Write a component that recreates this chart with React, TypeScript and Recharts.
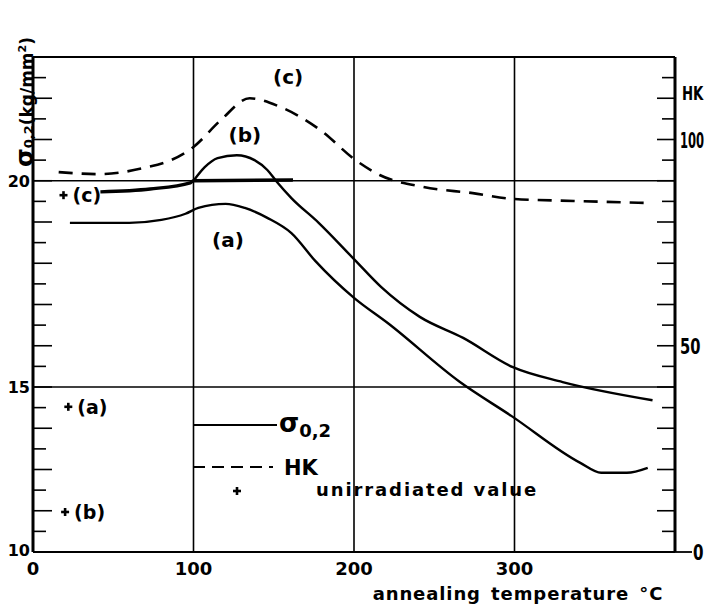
import React from "react";
import {
  ComposedChart,
  Line,
  Scatter,
  XAxis,
  YAxis,
  ReferenceLine,
  ReferenceDot,
  Legend,
  Label,
} from "recharts";

// sigma 0.2 curves (kg/mm2) vs annealing temperature (°C)
const tempA = [23, 60, 80, 95, 103, 120, 132, 146, 161, 176, 200, 221, 266, 298, 341, 354, 370, 383];
const sigmaA = [18.98, 18.98, 19.05, 19.2, 19.34, 19.44, 19.34, 19.1, 18.73, 18.05, 17.16, 16.55, 15.12, 14.3, 13.16, 12.92, 12.92, 13.04];

const tempB = [100, 107, 115, 127, 138, 146, 152, 161, 178, 200, 217, 241, 268, 299, 330, 386];
const sigmaB = [20.0, 20.33, 20.55, 20.62, 20.5, 20.26, 19.97, 19.58, 18.98, 18.1, 17.42, 16.7, 16.19, 15.48, 15.12, 14.68];

const tempC = [42, 73, 98, 100, 162];
const sigmaC = [19.73, 19.8, 19.95, 20.0, 20.02];

// Knoop hardness
const tempHK = [16, 42, 69, 86, 100, 117, 135, 154, 179, 201, 216, 243, 274, 299, 337, 383];
const hardness = [92.1, 91.6, 93.1, 95, 98.2, 104.7, 110, 107.9, 102.3, 95, 91.4, 88.5, 87, 85.6, 85.1, 84.6];

// unirradiated values
const tempUnirr = [19, 22, 20];
const sigmaUnirr = [19.65, 14.52, 11.97];
const unirrTags = ["(c)", "(a)", "(b)"];

const xTicks = [0, 100, 200, 300];
const sigmaTicks = [11, 11.5, 12, 12.5, 13, 13.5, 14, 14.5, 15, 15.5, 16, 16.5, 17, 17.5, 18, 18.5, 19, 19.5, 20, 20.5, 21, 21.5, 22, 22.5, 23];
const sigmaTickLabels: Record<number, string> = { 11: "10", 15: "15", 20: "20" };
const hkTicks = [0, 5, 10, 15, 20, 25, 30, 35, 40, 45, 50, 55, 60, 65, 70, 75, 80, 85, 90, 95, 100, 105, 110, 115];
const hkTickLabels: Record<number, string> = { 0: "0", 50: "50", 100: "100" };

const FONT = "'DejaVu Sans', sans-serif";

const rows = (xs: number[], ys: number[], key: string) => xs.map((t, i) => ({ temp: t, [key]: ys[i] }));

// narrow bold text, squeezed horizontally like the original lettering
const Narrow = ({ x, y, sx, size, children }: { x: number; y: number; sx: number; size: number; children: React.ReactNode }) => (
  <text
    transform={`translate(${x},${y}) scale(${sx},1)`}
    fontFamily={FONT}
    fontWeight="bold"
    fontSize={size}
    fill="#000"
  >
    {children}
  </text>
);

const SigmaTick = (props: any) => {
  const { x, y, payload } = props;
  const v = payload.value;
  const label = sigmaTickLabels[v];
  return (
    <g>
      <line x1={x} x2={x + (v % 1 === 0 ? 19 : 13)} y1={y} y2={y} stroke="#000" strokeWidth={1.6} />
      {label && (
        <text
          x={x - 3}
          y={y}
          dy={v === 11 ? 4 : 6}
          textAnchor="end"
          fontFamily={FONT}
          fontWeight="bold"
          fontSize={16}
          fill="#000"
        >
          {label}
        </text>
      )}
    </g>
  );
};

const HKTick = (props: any) => {
  const { x, y, payload } = props;
  const v = payload.value;
  const label = hkTickLabels[v];
  if (v === 0) {
    return (
      <g>
        <line x1={x - 10} x2={x + 17} y1={y} y2={y} stroke="#000" strokeWidth={1.8} />
        <Narrow x={x + 18} y={y + 8} sx={0.72} size={21}>
          {label}
        </Narrow>
      </g>
    );
  }
  return (
    <g>
      <line x1={x} x2={x - (v % 10 === 0 ? 18 : 13)} y1={y} y2={y} stroke="#000" strokeWidth={1.6} />
      {label && (
        <Narrow x={x + 5} y={y + 8} sx={label.length === 3 ? 0.55 : 0.7} size={21}>
          {label}
        </Narrow>
      )}
    </g>
  );
};

const TempTick = (props: any) => {
  const { x, y, payload } = props;
  return (
    <text x={x} y={y + 23} textAnchor="middle" fontFamily={FONT} fontWeight="bold" fontSize={18} fill="#000">
      {payload.value}
    </text>
  );
};

const Plus = ({ cx, cy }: { cx: number; cy: number }) => (
  <g stroke="#000" strokeWidth={2.6}>
    <line x1={cx - 4} x2={cx + 4} y1={cy} y2={cy} />
    <line x1={cx} x2={cx} y1={cy - 4} y2={cy + 4} />
  </g>
);

const UnirrShape = (props: any) => (
  <g>
    <Plus cx={props.cx} cy={props.cy} />
    <text x={props.cx + 9} y={props.cy + 7} fontFamily={FONT} fontWeight="bold" fontSize={19} fill="#000">
      {props.payload.tag}
    </text>
  </g>
);

const curveTag = (tag: string) => (p: any) => (
  <text x={p.cx} y={p.cy} dy={7} textAnchor="middle" fontFamily={FONT} fontWeight="bold" fontSize={20} fill="#000">
    {tag}
  </text>
);

const LegendBox = () => (
  <svg width={380} height={100} style={{ overflow: "visible", display: "block" }}>
    <line x1={0} x2={84} y1={17} y2={17} stroke="#000" strokeWidth={2} />
    <text x={86} y={24} fontFamily={FONT} fontWeight="bold" fontSize={26} fill="#000">
      σ<tspan fontSize={18} dy={5}>0,2</tspan>
    </text>
    <line x1={0} x2={80} y1={59} y2={59} stroke="#000" strokeWidth={2} strokeDasharray="12 7" />
    <text x={91} y={67} fontFamily={FONT} fontWeight="bold" fontSize={21} fill="#000">
      HK
    </text>
    <Plus cx={44} cy={83} />
    <text x={123} y={88} fontFamily={FONT} fontWeight="bold" fontSize={18} letterSpacing={1.9} fill="#000">
      unirradiated value
    </text>
  </svg>
);

export default function App() {
  const dataA = rows(tempA, sigmaA, "sigma");
  const dataB = rows(tempB, sigmaB, "sigma");
  const dataC = rows(tempC, sigmaC, "sigma");
  const dataHK = rows(tempHK, hardness, "hk");
  const dataUnirr = tempUnirr.map((t, i) => ({ temp: t, sigma: sigmaUnirr[i], tag: unirrTags[i] }));

  return (
    <div style={{ width: 698, height: 597, background: "#fff" }}>
      <ComposedChart width={698} height={597} margin={{ top: 49, right: 0, bottom: 0, left: 0 }}>
        <XAxis
          dataKey="temp"
          type="number"
          domain={[0, 400]}
          ticks={xTicks}
          interval={0}
          allowDataOverflow
          height={53}
          tickSize={0}
          tickMargin={0}
          tickLine={false}
          axisLine={{ stroke: "#000", strokeWidth: 2.2 }}
          tick={<TempTick />}
        >
          <Label
            content={(p: any) => (
              <text
                x={p.viewBox.x + 485}
                y={p.viewBox.y + 48}
                textAnchor="middle"
                fontFamily={FONT}
                fontWeight="bold"
                fontSize={18}
                letterSpacing={0.9}
                wordSpacing={3}
                fill="#000"
              >
                annealing temperature °C
              </text>
            )}
          />
        </XAxis>
        <YAxis
          yAxisId="sigma"
          orientation="left"
          type="number"
          width={25}
          domain={[11, 23]}
          ticks={sigmaTicks}
          interval={0}
          allowDataOverflow
          tickSize={0}
          tickMargin={0}
          tickLine={false}
          axisLine={{ stroke: "#000", strokeWidth: 3 }}
          tick={<SigmaTick />}
        >
          <Label
            content={() => (
              <text
                x={25}
                y={94}
                transform="rotate(-90, 25, 94)"
                textAnchor="middle"
                fontFamily={FONT}
                fontWeight="bold"
                fontSize={17}
                fill="#000"
              >
                <tspan fontSize={24}>σ</tspan>
                <tspan fontSize={13}>0,2</tspan>
                <tspan>(kg/mm</tspan>
                <tspan fontSize={11} dy={-7}>2</tspan>
                <tspan dy={7}>)</tspan>
              </text>
            )}
          />
        </YAxis>
        <YAxis
          yAxisId="hk"
          orientation="right"
          type="number"
          width={31}
          domain={[0, 120]}
          ticks={hkTicks}
          interval={0}
          allowDataOverflow
          tickSize={0}
          tickMargin={0}
          tickLine={false}
          axisLine={{ stroke: "#000", strokeWidth: 3 }}
          tick={<HKTick />}
        >
          <Label
            content={(p: any) => (
              <Narrow x={p.viewBox.x + 7} y={92} sx={0.7} size={19}>
                HK
              </Narrow>
            )}
          />
        </YAxis>

        <ReferenceLine yAxisId="sigma" y={23} stroke="#000" strokeWidth={2} />
        <ReferenceLine yAxisId="sigma" y={20} stroke="#000" strokeWidth={1.6} />
        <ReferenceLine yAxisId="sigma" y={15} stroke="#000" strokeWidth={1.6} />
        {[100, 200, 300].map((t) => (
          <ReferenceLine key={t} yAxisId="sigma" x={t} stroke="#000" strokeWidth={1.6} />
        ))}

        <Line
          yAxisId="hk"
          data={dataHK}
          dataKey="hk"
          name="HK"
          type="monotone"
          stroke="#000"
          strokeWidth={2.6}
          strokeDasharray="14 9"
          dot={false}
          isAnimationActive={false}
        />
        <Line
          yAxisId="sigma"
          data={dataA}
          dataKey="sigma"
          name="(a)"
          type="monotone"
          stroke="#000"
          strokeWidth={2.4}
          dot={false}
          isAnimationActive={false}
        />
        <Line
          yAxisId="sigma"
          data={dataB}
          dataKey="sigma"
          name="(b)"
          type="monotone"
          stroke="#000"
          strokeWidth={2.4}
          dot={false}
          isAnimationActive={false}
        />
        <Line
          yAxisId="sigma"
          data={dataC}
          dataKey="sigma"
          name="(c)"
          type="monotone"
          stroke="#000"
          strokeWidth={3.4}
          dot={false}
          isAnimationActive={false}
        />
        <Scatter
          yAxisId="sigma"
          data={dataUnirr}
          dataKey="sigma"
          name="unirradiated value"
          shape={<UnirrShape />}
          isAnimationActive={false}
        />

        <ReferenceDot yAxisId="sigma" x={159} y={22.52} r={0} shape={curveTag("(c)")} />
        <ReferenceDot yAxisId="sigma" x={132} y={21.11} r={0} shape={curveTag("(b)")} />
        <ReferenceDot yAxisId="sigma" x={121.5} y={18.56} r={0} shape={curveTag("(a)")} />

        <Legend
          layout="horizontal"
          verticalAlign="middle"
          align="center"
          content={() => <LegendBox />}
          wrapperStyle={{ left: 185, top: 400, width: 380, height: 100 }}
        />
      </ComposedChart>
    </div>
  );
}
